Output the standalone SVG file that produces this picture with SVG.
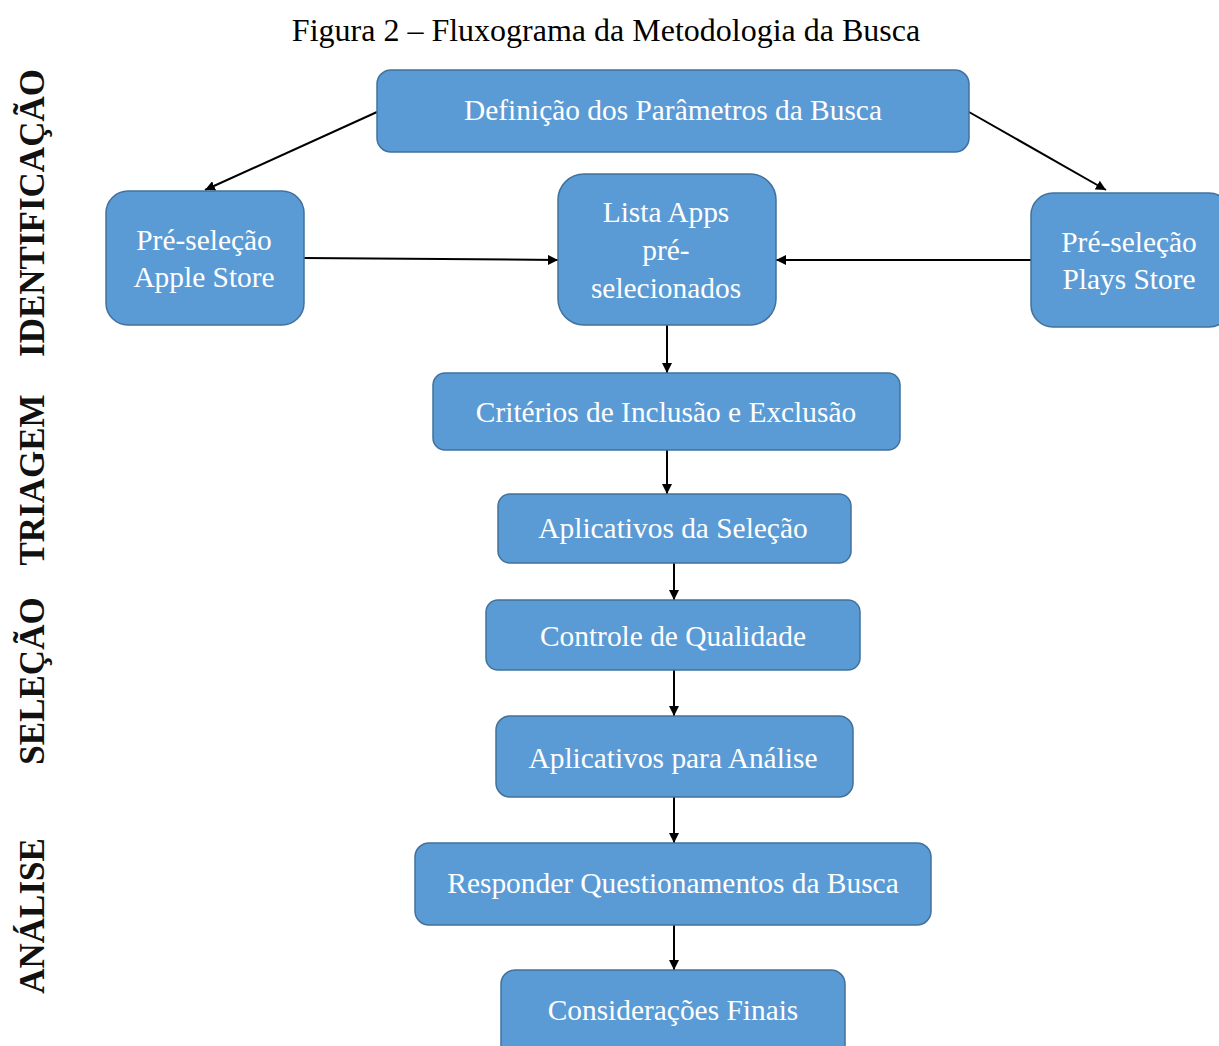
<svg xmlns="http://www.w3.org/2000/svg" width="1219" height="1046" viewBox="0 0 1219 1046">
<style>
.box{fill:#5b9bd5;stroke:#41719c;stroke-width:1.5}
.t{font-family:"Liberation Serif","Times New Roman","DejaVu Serif",serif;font-size:29.4px;fill:#fff;text-anchor:middle}
.side{font-family:"Liberation Serif","Times New Roman","DejaVu Serif",serif;font-size:35px;font-weight:bold;fill:#111;text-anchor:middle}
.title{font-family:"Liberation Serif","Times New Roman","DejaVu Serif",serif;font-size:32px;fill:#000;text-anchor:middle}
.c{stroke:#000;stroke-width:2;fill:none;marker-end:url(#ah)}
</style>
<defs>
<marker id="ah" viewBox="0 0 10 10" refX="10" refY="5" markerWidth="5" markerHeight="5" orient="auto" markerUnits="strokeWidth">
<path d="M0,0 L10,5 L0,10 z" fill="#000"/>
</marker>
</defs>
<rect width="1219" height="1046" fill="#fff"/>
<text class="title" x="606" y="41">Figura 2 – Fluxograma da Metodologia da Busca</text>
<g id="labels">
<text class="side" transform="translate(44,213) rotate(-90)">IDENTIFICAÇÃO</text>
<text class="side" transform="translate(44,480) rotate(-90)">TRIAGEM</text>
<text class="side" transform="translate(44,681) rotate(-90)">SELEÇÃO</text>
<text class="side" transform="translate(44,916) rotate(-90)">ANÁLISE</text>
</g>
<g id="connectors">
<line class="c" x1="377" y1="112" x2="205" y2="190"/>
<line class="c" x1="969" y1="112" x2="1106" y2="190"/>
<line class="c" x1="304" y1="258" x2="558" y2="260"/>
<line class="c" x1="1031" y1="260" x2="776" y2="260"/>
<line class="c" x1="667" y1="325" x2="667" y2="373"/>
<line class="c" x1="667" y1="450" x2="667" y2="494"/>
<line class="c" x1="674" y1="563" x2="674" y2="600"/>
<line class="c" x1="674" y1="670" x2="674" y2="716"/>
<line class="c" x1="674" y1="797" x2="674" y2="843"/>
<line class="c" x1="674" y1="925" x2="674" y2="970"/>
</g>
<g id="n1"><rect class="box" x="377" y="70" width="592" height="82" rx="14"/><text class="t" x="673" y="120">Definição dos Parâmetros da Busca</text></g>
<g id="n2"><rect class="box" x="106" y="191" width="198" height="134" rx="22"/><text class="t" x="204" y="250">Pré-seleção</text><text class="t" x="204" y="287">Apple Store</text></g>
<g id="n3"><rect class="box" x="558" y="174" width="218" height="151" rx="26"/><text class="t" x="666" y="222">Lista Apps</text><text class="t" x="666" y="260">pré-</text><text class="t" x="666" y="298">selecionados</text></g>
<g id="n4"><rect class="box" x="1031" y="193" width="200" height="134" rx="22"/><text class="t" x="1129" y="252">Pré-seleção</text><text class="t" x="1129" y="289">Plays Store</text></g>
<g id="n5"><rect class="box" x="433" y="373" width="467" height="77" rx="12"/><text class="t" x="666" y="422">Critérios de Inclusão e Exclusão</text></g>
<g id="n6"><rect class="box" x="498" y="494" width="353" height="69" rx="12"/><text class="t" x="673" y="538">Aplicativos da Seleção</text></g>
<g id="n7"><rect class="box" x="486" y="600" width="374" height="70" rx="12"/><text class="t" x="673" y="646">Controle de Qualidade</text></g>
<g id="n8"><rect class="box" x="496" y="716" width="357" height="81" rx="14"/><text class="t" x="673" y="768">Aplicativos para Análise</text></g>
<g id="n9"><rect class="box" x="415" y="843" width="516" height="82" rx="14"/><text class="t" x="673" y="893">Responder Questionamentos da Busca</text></g>
<g id="n10"><rect class="box" x="501" y="970" width="344" height="90" rx="14"/><text class="t" x="673" y="1020">Considerações Finais</text></g>
</svg>
